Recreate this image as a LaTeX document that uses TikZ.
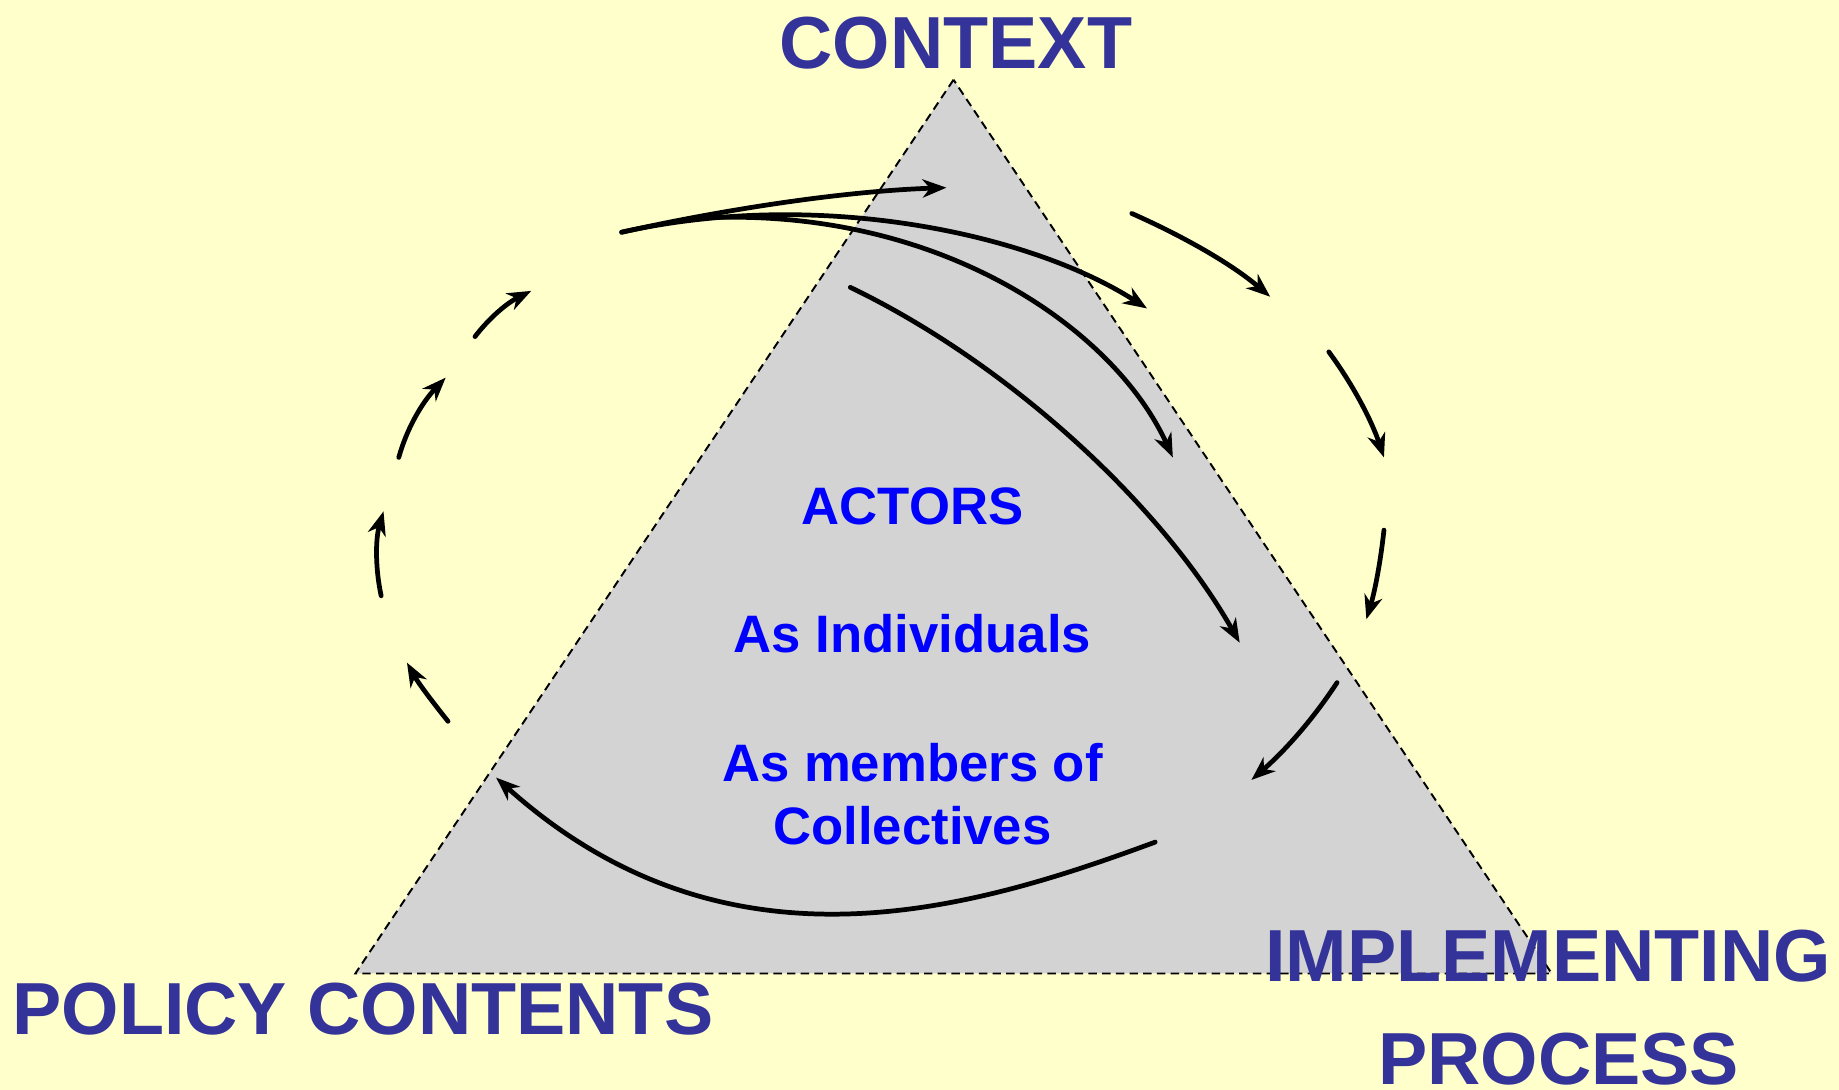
\documentclass[tikz,border=0pt]{standalone}
\usepackage{fontspec}
\setmainfont{Liberation Sans}
\usetikzlibrary{arrows.meta}
\definecolor{bgyellow}{RGB}{255,255,204}
\definecolor{trigray}{RGB}{211,211,211}
\definecolor{headblue}{RGB}{51,51,153}
\definecolor{innerblue}{RGB}{0,0,255}
\begin{document}
\begin{tikzpicture}[x=0.011728cm,y=-0.011728cm,
  flow/.style={line width=1.35pt, line cap=round, -{Stealth[length=6.8pt,width=5.2pt,inset=2.1pt]}},
  headtext/.style={font=\fontsize{21}{25}\selectfont\bfseries, text=headblue, inner sep=0pt, anchor=base},
  actortext/.style={font=\fontsize{15}{18}\selectfont\bfseries, text=innerblue, inner sep=0pt, anchor=base},
  tri/.style={fill=trigray, draw=black, line width=0.55pt, dash pattern=on 2.4pt off 1.5pt}
]
\fill[bgyellow] (0,0) rectangle (1568,929);
\useasboundingbox (0,0) rectangle (1568,929);

% triangle
\coordinate (T) at (813,68);
\coordinate (BL) at (303,830);
\coordinate (BR) at (1323,830);
\draw[tri] (T) -- (BL) -- (BR) -- cycle;

% end points of connectors
\coordinate (a0) at (530,198);
\coordinate (a1) at (807,160);
\coordinate (b1) at (978,263);
\coordinate (c0) at (595,186);
\coordinate (c1) at (1000,390);
\coordinate (d0) at (725,245);
\coordinate (d1) at (1057,548);
\coordinate (e0) at (1140,582);
\coordinate (e1) at (1067,665);
\coordinate (f0) at (985,718);
\coordinate (f1) at (423,663);
\coordinate (r10) at (965,182);
\coordinate (r11) at (1083,253);
\coordinate (r20) at (1133,300);
\coordinate (r21) at (1180,390);
\coordinate (r30) at (1180,452);
\coordinate (r31) at (1165,528);
\coordinate (l10) at (382,615);
\coordinate (l11) at (347,565);
\coordinate (l20) at (325,508);
\coordinate (l21) at (327,436);
\coordinate (l30) at (340,390);
\coordinate (l31) at (380,322);
\coordinate (l40) at (405,287);
\coordinate (l41) at (453,248);

% inner arrows
\draw[flow] (a0) .. controls (620,178) and (720,163) .. (a1);
\draw[flow] (a0) .. controls (700,160) and (880,200) .. (b1);
\draw[flow] (c0) .. controls (800,175) and (950,280) .. (c1);
\draw[flow] (d0) .. controls (860,310) and (990,430) .. (d1);
\draw[flow] (e0) .. controls (1115,620) and (1090,645) .. (e1);
\draw[flow] (f0) .. controls (830,775) and (620,840) .. (f1);

% broken circle arrows
\draw[flow] (r10) .. controls (1010,202) and (1050,225) .. (r11);
\draw[flow] (r20) .. controls (1155,330) and (1170,360) .. (r21);
\draw[flow] (r30) .. controls (1177,480) and (1172,505) .. (r31);
\draw[flow] (l10) .. controls (370,600) and (357,583) .. (l11);
\draw[flow] (l20) .. controls (320,485) and (320,460) .. (l21);
\draw[flow] (l30) .. controls (347,365) and (360,343) .. (l31);
\draw[flow] (l40) .. controls (418,270) and (433,258) .. (l41);

% texts
\node[headtext] (context) at (815,58) {CONTEXT};
\node[headtext, anchor=base west] (policy) at (10,882) {POLICY CONTENTS};
\node[headtext] (impl) at (1320,837) {IMPLEMENTING};
\node[headtext] (proc) at (1329,925) {PROCESS};
\node[actortext] (actors) at (778,447) {ACTORS};
\node[actortext] (indiv) at (778,556) {As Individuals};
\node[actortext] (members) at (778,666) {As members of};
\node[actortext] (collect) at (778,720) {Collectives};
\end{tikzpicture}
\end{document}
